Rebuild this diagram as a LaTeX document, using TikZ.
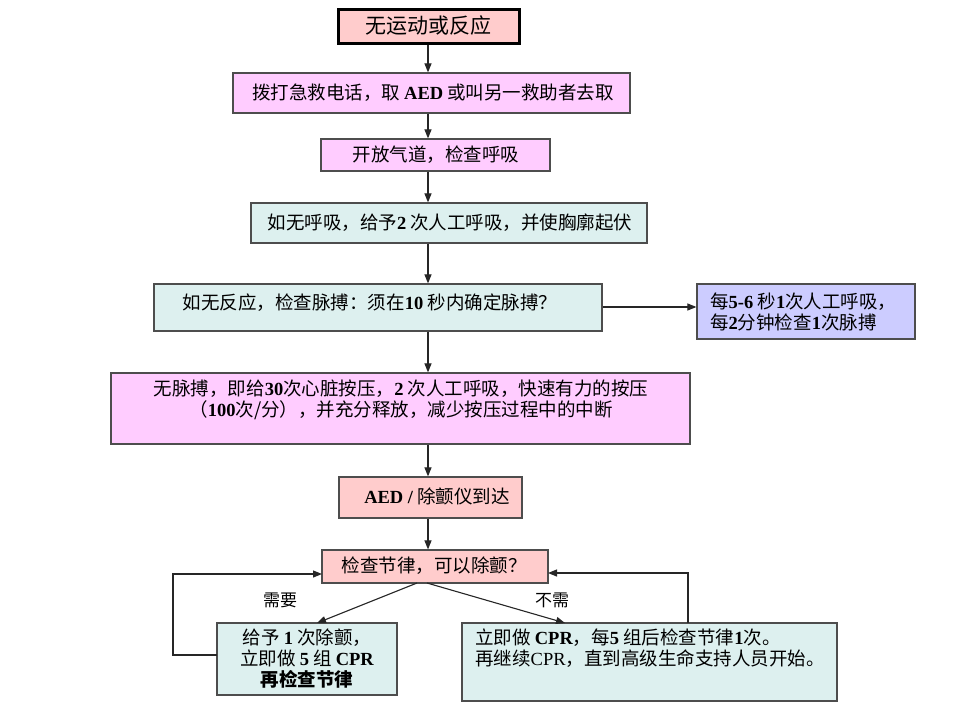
\documentclass[tikz,border=0pt]{standalone}
\usepackage{fontspec}
\setmainfont{Noto Sans CJK SC}
\newfontfamily\lat{Liberation Serif}
\usetikzlibrary{arrows.meta}
\newcommand\lb[1]{{\lat\bfseries #1}}
\newcommand\lr[1]{{\lat #1}}
\definecolor{pinkA}{HTML}{FFCCCC}
\definecolor{magA}{HTML}{FFCCFF}
\definecolor{cyanA}{HTML}{DDF0EF}
\definecolor{lavA}{HTML}{CCCCFF}
\definecolor{edgeA}{HTML}{4D4D4D}
\tikzset{
  box/.style={draw=edgeA, line width=1.2pt, inner sep=0pt},
  txt/.style={font=\fontsize{18.5}{21}\selectfont, inner sep=0pt, align=center},
  arr/.style={draw=black!85, line width=1.1pt, -{Triangle[length=9pt,width=7pt]}},
}
\begin{document}
\begin{tikzpicture}[x=1pt,y=-1pt]
\fill[white] (0,0) rectangle (960,720);
\useasboundingbox (0,0) rectangle (960,720);
% boxes
\node[box, fill=pinkA, draw=black, line width=3pt, minimum width=181pt, minimum height=34pt] (b1) at (428.5,26) {};
\node[box, fill=magA, minimum width=397pt, minimum height=40pt] (b2) at (431.5,93) {};
\node[box, fill=magA, minimum width=229pt, minimum height=32pt] (b3) at (435.5,155) {};
\node[box, fill=cyanA, minimum width=396pt, minimum height=40pt] (b4) at (449,223) {};
\node[box, fill=cyanA, minimum width=448pt, minimum height=47pt] (b5) at (378,307.5) {};
\node[box, fill=lavA, minimum width=218pt, minimum height=55pt] (b6) at (806,311.5) {};
\node[box, fill=magA, minimum width=579pt, minimum height=71pt] (b7) at (400.5,408.5) {};
\node[box, fill=pinkA, minimum width=183pt, minimum height=41pt] (b8) at (430.5,497.5) {};
\node[box, fill=pinkA, minimum width=226pt, minimum height=33pt] (b9) at (435,566.5) {};
\node[box, fill=cyanA, minimum width=180pt, minimum height=72pt] (b10) at (307,659) {};
\node[box, fill=cyanA, minimum width=375pt, minimum height=78pt] (b11) at (649.5,662) {};
% texts
\node[txt, font=\fontsize{21}{24}\selectfont] (t1) at (428,26) {无运动或反应};
\node[txt] (t2) at (433,93) {拨打急救电话，取 \lb{AED} 或叫另一救助者去取};
\node[txt] (t3) at (436,155) {开放气道，检查呼吸};
\node[txt] (t4) at (450,223) {如无呼吸，给予\lb{2} 次人工呼吸，并使胸廓起伏};
\node[txt] (t5) at (370,303) {如无反应，检查脉搏：须在\lb{10} 秒内确定脉搏？};
\node[txt, anchor=west, align=left] (t6) at (710,312) {每\lb{5-6} 秒\lb{1}次人工呼吸，\\每\lb{2}分钟检查\lb{1}次脉搏};
\node[txt] (t7) at (401,400) {无脉搏，即给\lb{30}次心脏按压，\lb{2} 次人工呼吸，快速有力的按压\\（\lb{100}次/分），并充分释放，减少按压过程中的中断};
\node[txt] (t8) at (437,496) {\lb{AED /} 除颤仪到达};
\node[txt] (t9) at (434,566) {检查节律，可以除颤？};
\node[txt] (t10) at (307,659) {给予 \lb{1} 次除颤，\\立即做 \lb{5} 组 \lb{CPR}\\\textbf{再检查节律}};
\node[txt, anchor=west, align=left] (t11) at (475,648) {立即做 \lb{CPR}，每\lb{5} 组后检查节律\lb{1}次。\\再继续\lr{CPR}，直到高级生命支持人员开始。};
\node[txt, font=\fontsize{17}{20}\selectfont] (lneed) at (280,600) {需要};
\node[txt, font=\fontsize{17}{20}\selectfont] (lno) at (552,600) {不需};
% connectors
\coordinate (ax) at (428,0);
\draw[arr] (ax |- b1.south) -- (ax |- b2.north);
\draw[arr] (ax |- b2.south) -- (ax |- b3.north);
\draw[arr] (ax |- b3.south) -- (ax |- b4.north);
\draw[arr] (ax |- b4.south) -- (ax |- b5.north);
\draw[arr] (ax |- b5.south) -- (ax |- b7.north);
\draw[arr] (ax |- b7.south) -- (ax |- b8.north);
\draw[arr] (ax |- b8.south) -- (ax |- b9.north);
\coordinate (yr) at (0,307);
\draw[arr] (b5.east |- yr) -- (b6.west |- yr);
\coordinate (s1) at (417,583);
\coordinate (e1) at (317,623);
\coordinate (s2) at (427,583);
\coordinate (e2) at (565,623);
\draw[arr] (s1) -- (e1);
\draw[arr] (s2) -- (e2);
\coordinate (fl1) at (217,655);
\coordinate (fl2) at (322,574);
\draw[arr] (fl1) -- (173,655) |- (fl2);
\coordinate (fr1) at (688,623);
\coordinate (fr2) at (548,573);
\draw[arr] (fr1) |- (fr2);
\end{tikzpicture}
\end{document}
